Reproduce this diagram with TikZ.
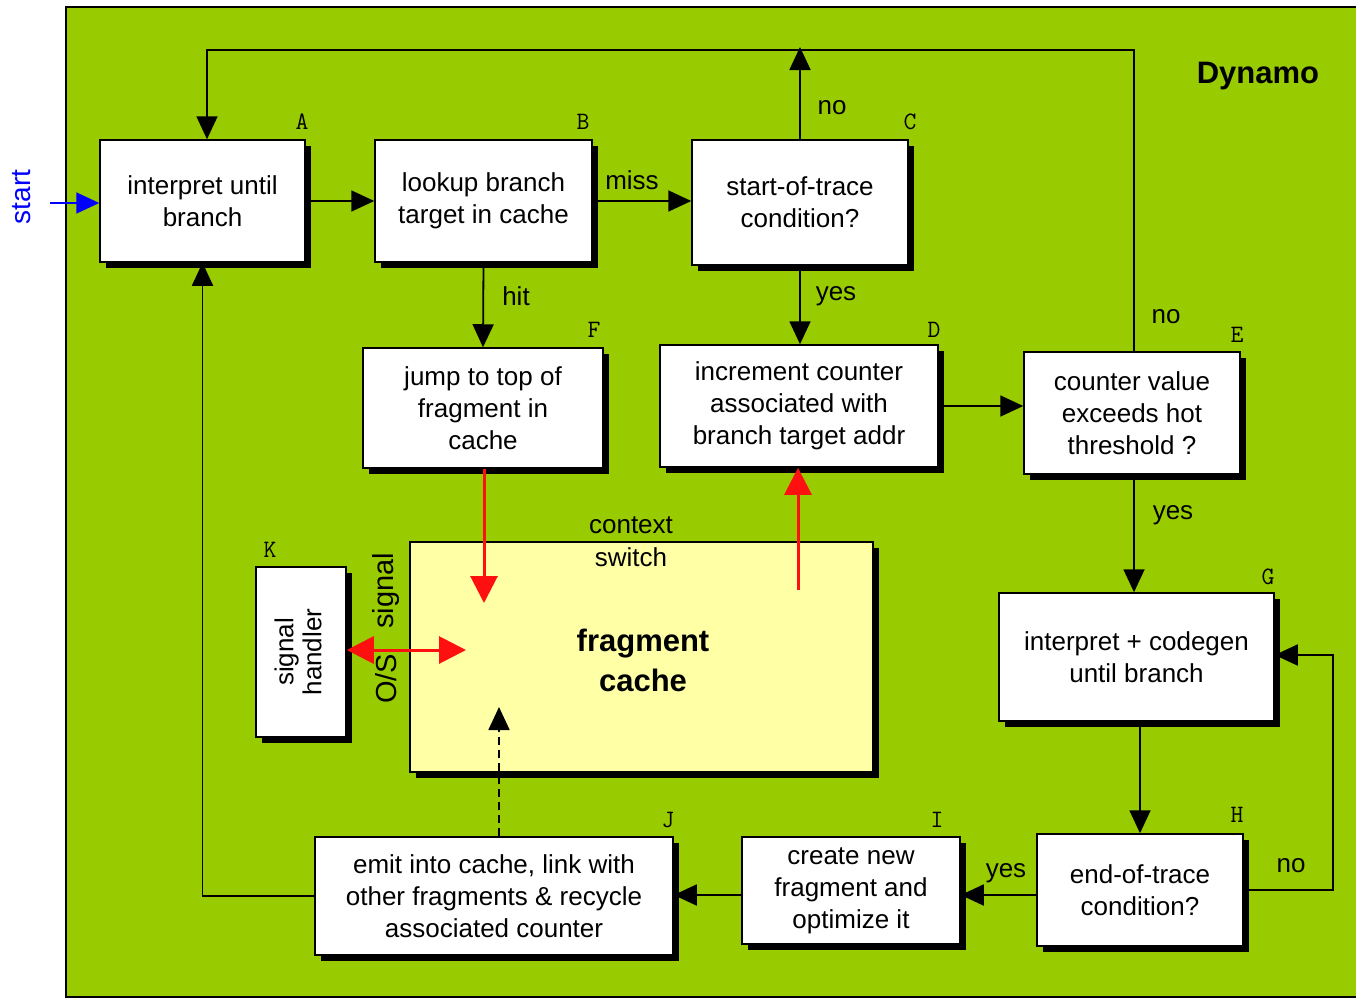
\documentclass[tikz,border=0pt]{standalone}
\usepackage{fontspec}
\setmainfont{Liberation Sans}
\usetikzlibrary{arrows.meta,shadows}
\definecolor{dgreen}{HTML}{99CC00}
\definecolor{cacheyel}{HTML}{FFFFA6}
\definecolor{sigred}{HTML}{FF1010}
\tikzset{
  box/.style={draw=black, line width=1.5pt, fill=white, align=center,
    font=\fontsize{26}{32}\selectfont, inner sep=0pt,
    drop shadow={shadow xshift=6pt, shadow yshift=-6pt, fill=black, opacity=1}},
  conn/.style={line width=1.8pt, -{Triangle[length=23pt,width=21pt]}},
  redconn/.style={draw=sigred, line width=3pt, -{Triangle[length=27pt,width=27pt]}},
  lbl/.style={font=\ttfamily\fontsize{25}{25}\selectfont},
  txt/.style={font=\fontsize{26}{26}\selectfont, inner sep=0pt},
}
\begin{document}
\begin{tikzpicture}[x=1pt,y=-1pt]
\useasboundingbox (0,0) rectangle (1356,998);
\fill[white] (0,0) rectangle (1356,998);
\fill[dgreen] (66,7) rectangle (1356,997);
\draw[line width=1.5pt] (1356,7) -- (66,7) -- (66,997) -- (1356,997);

\node[txt, font=\bfseries\fontsize{31}{31}\selectfont] (dyn) at (1258,76) {Dynamo};

% boxes
\node[box, minimum width=205pt, minimum height=122pt] (A) at (202.5,201) {interpret until\\branch};
\node[box, minimum width=217pt, minimum height=122pt] (B) at (483.5,201) {lookup branch\\target in cache};
\node[box, minimum width=216pt, minimum height=125pt] (C) at (800,202.5) {start-of-trace\\condition?};
\node[box, minimum width=240pt, minimum height=120pt] (F) at (483,408) {jump to top of\\fragment in\\cache};
\node[box, minimum width=278pt, minimum height=122pt] (D) at (799,406) {increment counter\\associated with\\branch target addr};
\node[box, minimum width=216pt, minimum height=122pt] (E) at (1132,413) {counter value\\exceeds hot\\threshold ?};
\node[box, minimum width=275pt, minimum height=128pt] (G) at (1136.5,657) {interpret + codegen\\until branch};
\node[box, minimum width=206pt, minimum height=112pt] (H) at (1140,890) {end-of-trace\\condition?};
\node[box, minimum width=218pt, minimum height=107pt] (I) at (851,890.5) {create new\\fragment and\\optimize it};
\node[box, minimum width=358pt, minimum height=118pt] (J) at (494,896) {emit into cache, link with\\other fragments \& recycle\\associated counter};
\node[box, minimum width=90pt, minimum height=170pt] (K) at (301,652) {\rotatebox{90}{\begin{tabular}{@{}c@{}}signal\\[-4pt]handler\end{tabular}}};
\node[box, fill=cacheyel, minimum width=463pt, minimum height=230pt] (FC) at (641.5,657) {};
\node[txt, font=\bfseries\fontsize{31}{40}\selectfont, align=center] (fct) at (643,660) {fragment\\cache};

% letter labels
\node[lbl] (la) at (302,122) {A};
\node[lbl] (lb) at (583,122) {B};
\node[lbl] (lc) at (910,122) {C};
\node[lbl] (lf) at (594,330) {F};
\node[lbl] (ld) at (934,330) {D};
\node[lbl] (le) at (1237,335) {E};
\node[lbl] (lg) at (1268,577) {G};
\node[lbl] (lh) at (1237,815) {H};
\node[lbl] (li) at (937,820) {I};
\node[lbl] (lj) at (668,820) {J};
\node[lbl] (lk) at (270,550) {K};

% start
\node[txt, text=blue, rotate=90, font=\fontsize{28}{28}\selectfont] (st) at (22,197) {start};
\coordinate (s0) at (50,203);
\draw[line width=1.8pt, draw=blue, fill=blue, -{Triangle[length=23pt,width=21pt]}] (s0) -- (s0 -| A.west);

% connectors
\coordinate (topC) at (800,47);
\coordinate (topE) at (0,50);
\coordinate (yl) at (0,895);
\draw[conn] (A.east) -- (A.east -| B.west);
\draw[conn] (B.east) -- (B.east -| C.west);
\draw[conn] (B.south) -- (F.north);
\draw[conn] (C.south) -- (C.south |- D.north);
\draw[conn] (C.north) -- (topC);
\draw[conn] ([xshift=2pt]E.north) |- ([xshift=4.5pt]A.north |- topE) -- ([xshift=4.5pt]A.north);
\draw[conn] (D.east) -- (D.east -| E.west);
\draw[conn] ([xshift=2pt]E.south) -- ([xshift=2pt]E.south |- G.north);
\draw[conn] (H.north |- G.south) -- (H.north);
\draw[conn] (H.east) -- ++(89,0) |- ([yshift=2pt]G.east);
\draw[conn] (H.west |- yl) -- (I.east |- yl);
\draw[conn] (I.west |- yl) -- (J.east |- yl);
\draw[conn] (J.west) -| (A.south);
\coordinate (jc) at (499,707);
\draw[conn, dash pattern=on 8pt off 5pt] (J.north -| jc) -- (jc);

% red arrows
\coordinate (fcin) at (484,603);
\coordinate (fcout) at (798,590);
\coordinate (fcsig) at (466,650);
\draw[redconn] ([xshift=1pt]F.south) -- (fcin);
\draw[redconn] (fcout) -- (fcout |- D.south);
\draw[redconn, {Triangle[length=27pt,width=27pt]}-{Triangle[length=27pt,width=27pt]}] (K.east |- fcsig) -- (fcsig);

% edge labels
\node[txt] (miss) at (632,180) {miss};
\node[txt] (hit) at (516,296) {hit};
\node[txt] (yes1) at (836,296) {yes};
\node[txt] (no1) at (832,108) {no};
\node[txt] (no2) at (1166,317) {no};
\node[txt] (yes2) at (1173,515) {yes};
\node[txt] (no3) at (1291,866) {no};
\node[txt] (yes3) at (1006,873) {yes};
\node[txt, align=center, font=\fontsize{26}{33}\selectfont] (cs) at (631,542) {context\\switch};
\node[txt, rotate=90, font=\fontsize{29}{29}\selectfont] (os1) at (386,679) {O/S};
\node[txt, rotate=90, font=\fontsize{29}{29}\selectfont] (os2) at (386,591) {signal};
\end{tikzpicture}
\end{document}
